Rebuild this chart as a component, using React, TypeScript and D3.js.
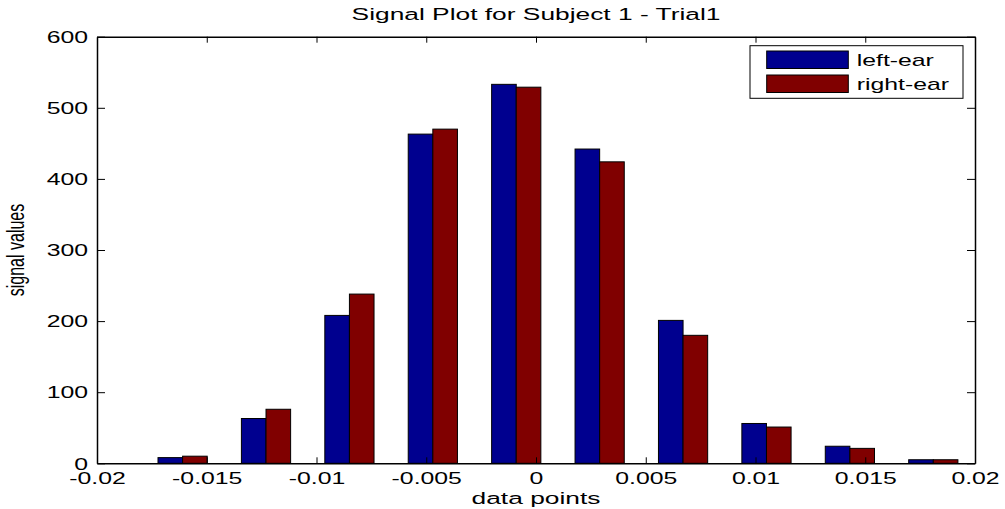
import { useEffect, useRef } from "react";
import * as d3 from "d3";

// histogram bin centres (x) and counts per channel
const binCenters = [-0.0161, -0.0123, -0.0085, -0.0047, -0.0009, 0.0029, 0.0067, 0.0105, 0.0143, 0.0181];
const leftEar = [8, 63, 208, 463, 533, 442, 201, 56, 24, 5];
const rightEar = [10, 76, 238, 470, 529, 424, 180, 51, 21, 5];
const seriesNames = ["left-ear", "right-ear"];
const xTicks = [-0.02, -0.015, -0.01, -0.005, 0, 0.005, 0.01, 0.015, 0.02];
const yTicks = [0, 100, 200, 300, 400, 500, 600];

const W = 1005;
const H = 509;
const SX = 1.55; // the figure is stretched sideways, text included
const FONT = "'Liberation Sans', Arial, Helvetica, sans-serif";
const colors = ["#00008f", "#800000"];

export default function App() {
  const ref = useRef<SVGSVGElement>(null);

  useEffect(() => {
    const svg = d3.select(ref.current);
    svg.selectAll("*").remove();

    const margin = { top: 36.7, right: 30, bottom: 45.7, left: 97 };

    const x = d3
      .scaleLinear()
      .domain([-0.02, 0.02])
      .range([margin.left, W - margin.right]);
    const y = d3
      .scaleLinear()
      .domain([0, 600])
      .range([H - margin.bottom, margin.top]);

    const step = x(binCenters[1]) - x(binCenters[0]);
    const barW = step * 0.295;

    const g = svg.append("g");

    // bars
    const series = [leftEar, rightEar];
    series.forEach((vals, si) => {
      g.append("g")
        .selectAll("rect")
        .data(vals)
        .join("rect")
        .attr("x", (d, i) => x(binCenters[i]) - barW + si * barW)
        .attr("y", (d) => y(d))
        .attr("width", barW)
        .attr("height", (d) => y(0) - y(d))
        .attr("fill", colors[si])
        .attr("stroke", "#000")
        .attr("stroke-width", 1);
    });

    const fmt = (v) => String(+v.toFixed(3));

    // axes, ticks point inwards like matlab
    const bottom = g
      .append("g")
      .attr("transform", `translate(0,${y(0)})`)
      .call(d3.axisBottom(x).tickValues(xTicks).tickSizeInner(-6).tickSizeOuter(0).tickPadding(9).tickFormat(fmt));
    bottom
      .selectAll("text")
      .attr("transform", `scale(${SX},1)`)
      .attr("dy", "0.71em");

    const left = g
      .append("g")
      .attr("transform", `translate(${x(-0.02)},0)`)
      .call(d3.axisLeft(y).tickValues(yTicks).tickSizeInner(-8).tickSizeOuter(0).tickPadding(0).tickFormat(d3.format("d")));
    left
      .selectAll("text")
      .attr("x", -9 / SX)
      .attr("dy", "0.36em")
      .attr("transform", `scale(${SX},1)`);

    g.append("g")
      .attr("transform", `translate(0,${y(600)})`)
      .call(d3.axisTop(x).tickValues(xTicks).tickSizeInner(-6).tickSizeOuter(0).tickFormat(() => ""));
    g.append("g")
      .attr("transform", `translate(${x(0.02)},0)`)
      .call(d3.axisRight(y).tickValues(yTicks).tickSizeInner(-8).tickSizeOuter(0).tickFormat(() => ""));

    g.selectAll(".domain").attr("stroke", "#000").attr("stroke-width", 1.5);
    g.selectAll(".tick line").attr("stroke", "#000").attr("stroke-width", 1);
    g.selectAll(".tick text")
      .attr("font-family", FONT)
      .attr("font-size", 16)
      .attr("fill", "#000");

    const addText = (txt, tx, ty, size, extra = "") =>
      g
        .append("text")
        .attr("transform", `translate(${tx},${ty}) scale(${SX},1)${extra}`)
        .attr("text-anchor", "middle")
        .attr("font-family", FONT)
        .attr("font-size", size)
        .attr("fill", "#000")
        .text(txt);

    const cx = (x(-0.02) + x(0.02)) / 2;
    addText("Signal Plot for Subject 1 - Trial1", cx, 20, 17);
    addText("data points", cx, 504, 17);
    addText("signal values", 24, (y(0) + y(600)) / 2, 16, " rotate(-90)");

    // legend
    const lg = g.append("g").attr("transform", "translate(750,45.7)");
    lg.append("rect")
      .attr("width", 213)
      .attr("height", 52.6)
      .attr("fill", "#fff")
      .attr("stroke", "#000")
      .attr("stroke-width", 1);
    seriesNames.forEach((name, i) => {
      lg.append("rect")
        .attr("x", 16.7)
        .attr("y", 5.3 + i * 24)
        .attr("width", 81.6)
        .attr("height", 17.5)
        .attr("fill", colors[i])
        .attr("stroke", "#000")
        .attr("stroke-width", 1);
      lg.append("text")
        .attr("transform", `translate(106.7,${20.5 + i * 23.5}) scale(${SX},1)`)
        .attr("font-family", FONT)
        .attr("font-size", 16)
        .attr("fill", "#000")
        .text(name);
    });
  }, []);

  return (
    <svg
      ref={ref}
      width={W}
      height={H}
      style={{ position: "absolute", left: 0, top: 0, background: "#fff" }}
    />
  );
}
